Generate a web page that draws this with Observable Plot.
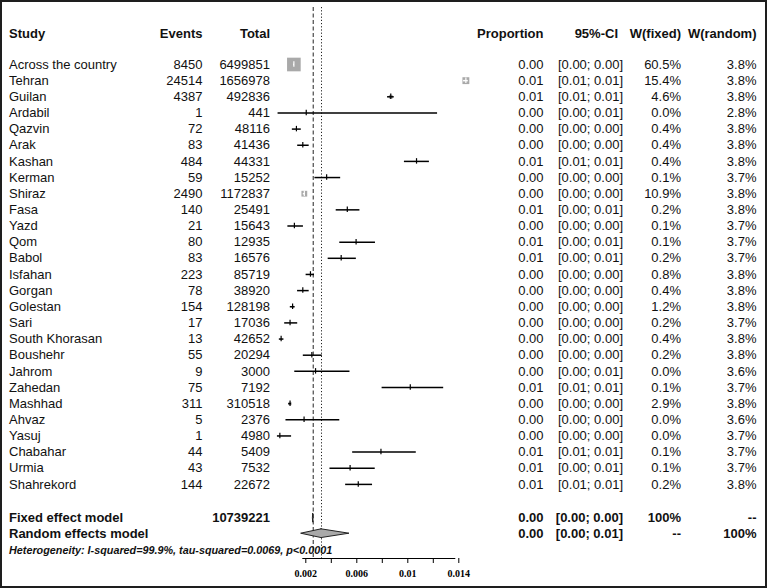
<!DOCTYPE html>
<html><head><meta charset="utf-8">
<script src="https://cdn.jsdelivr.net/npm/d3@7"></script>
<script src="https://cdn.jsdelivr.net/npm/@observablehq/plot@0.6"></script>
<style>
body{margin:0;background:#fff;}
#wrap{position:relative;width:767px;height:588px;overflow:hidden;background:#fff;}
#border{position:absolute;left:0;top:0;width:767px;height:588px;box-sizing:border-box;border:2px solid #1e1e1e;pointer-events:none;}
#wrap svg{display:block;}
</style></head><body>
<div id="wrap"><div id="border"></div></div>
<script>
// ---------- data ----------
const studies = ["Across the country","Tehran","Guilan","Ardabil","Qazvin","Arak","Kashan","Kerman","Shiraz","Fasa","Yazd","Qom","Babol","Isfahan","Gorgan","Golestan","Sari","South Khorasan","Boushehr","Jahrom","Zahedan","Mashhad","Ahvaz","Yasuj","Chabahar","Urmia","Shahrekord"];
const events = [8450,24514,4387,1,72,83,484,59,2490,140,21,80,83,223,78,154,17,13,55,9,75,311,5,1,44,43,144];
const totals = [6499851,1656978,492836,441,48116,41436,44331,15252,1172837,25491,15643,12935,16576,85719,38920,128198,17036,42652,20294,3000,7192,310518,2376,4980,5409,7532,22672];
const proportion = [0.0013,0.01479,0.0089,0.00227,0.0015,0.002,0.01092,0.00387,0.00212,0.00549,0.00134,0.00618,0.00501,0.0026,0.002,0.0012,0.001,0.0003,0.00271,0.003,0.01043,0.001,0.0021,0.0002,0.00813,0.00571,0.00635];
const ciLower = [0.00127,0.01461,0.00865,0.00006,0.00118,0.0016,0.00997,0.00295,0.00204,0.00462,0.00083,0.0049,0.00399,0.00226,0.00159,0.00102,0.00058,0.00016,0.00204,0.00137,0.00822,0.00089,0.00068,0.00001,0.00591,0.00413,0.00536];
const ciUpper = [0.00133,0.01498,0.00917,0.01257,0.00188,0.0025,0.01193,0.00497,0.00221,0.00648,0.00205,0.0077,0.0062,0.00292,0.0025,0.0014,0.0016,0.00052,0.00353,0.0057,0.01305,0.00112,0.0049,0.00112,0.0109,0.00768,0.00747];
const weightFixed = [60.5,15.4,4.6,0.0,0.4,0.4,0.4,0.1,10.9,0.2,0.1,0.1,0.2,0.8,0.4,1.2,0.2,0.4,0.2,0.0,0.1,2.9,0.0,0.0,0.1,0.1,0.2];
const weightRandom = [3.8,3.8,3.8,2.8,3.8,3.8,3.8,3.7,3.8,3.8,3.7,3.7,3.7,3.8,3.8,3.8,3.7,3.8,3.8,3.6,3.7,3.8,3.6,3.7,3.7,3.7,3.8];

const pooledLabels = ["Fixed effect model","Random effects model"];
const pooledTotal = ["10739221",""];
const pooledEst = [0.002816,0.003467];
const pooledLower = [0.00279,0.00187];
const pooledUpper = [0.00285,0.00566];
const pooledWFixed = ["100%","--"];
const pooledWRandom = ["--","100%"];
const heterogeneity = "Heterogeneity: I-squared=99.9%, tau-squared=0.0069, p<0.0001";
const headers = ["Study","Events","Total","Proportion","95%-CI","W(fixed)","W(random)"];
const xTicks = [0.002,0.004,0.006,0.008,0.010,0.012,0.014];
const xTickLabels = ["0.002","","0.006","","0.01","","0.014"];

// ---------- layout ----------
const W = 767, H = 588;
const xDomain = [0, 0.016], xRange = [276.8, 480.8];
const pxPerUnit = (xRange[1]-xRange[0])/(xDomain[1]-xDomain[0]);
const Y0 = 64, ROW = 16.15;
const rowOf = px => (px - Y0)/ROW;
const headerRow = rowOf(33.3), fixedRow = rowOf(517.8), randomRow = rowOf(533.2), hetRow = rowOf(549.6);
const axisPx = 558, axisRow = rowOf(axisPx), topRow = rowOf(7);
const FONT = "Liberation Sans, Arial, Helvetica, sans-serif";
const BOX_R = 7.7;
const boxSide = w => 1.7725*BOX_R*Math.sqrt(w/60.5);

const rows = studies.map((s,i) => ({
  study: s, events: String(events[i]), total: String(totals[i]),
  p: proportion[i], lo: ciLower[i], hi: ciUpper[i], wf: weightFixed[i], wr: weightRandom[i],
  row: i,
  inside: (ciUpper[i]-ciLower[i])*pxPerUnit < 0.8*boxSide(weightFixed[i])
}));
const pooled = pooledLabels.map((s,i) => ({
  study: s, total: pooledTotal[i], p: pooledEst[i], lo: pooledLower[i], hi: pooledUpper[i],
  wf: pooledWFixed[i], wr: pooledWRandom[i], row: i === 0 ? fixedRow : randomRow
}));
const f2 = v => v.toFixed(2);
const ciText = d => `[${f2(d.lo)}; ${f2(d.hi)}]`;

const cols = [
  {text: d => d.study, px: 8.5, anchor: "start"},
  {text: d => d.events ?? "", px: 202, anchor: "end"},
  {text: d => d.total, px: 269.5, anchor: "end"},
  {text: d => f2(d.p), px: 543, anchor: "end"},
  {text: ciText, px: 622.5, anchor: "end"},
  {text: d => typeof d.wf === "number" ? d.wf.toFixed(1) + "%" : d.wf, px: 680.5, anchor: "end"},
  {text: d => typeof d.wr === "number" ? d.wr.toFixed(1) + "%" : d.wr, px: 756, anchor: "end"}
];
const headerPx = [8.5, 202, 269.5, 543, 617.5, 680.5, 756];

const textMarks = [];
cols.forEach(c => {
  textMarks.push(Plot.text(rows, {y: "row", text: c.text, frameAnchor: "left", dx: c.px, textAnchor: c.anchor, fontSize: 13, fill: "#111"}));
  textMarks.push(Plot.text(pooled, {y: "row", text: c.text, frameAnchor: "left", dx: c.px, textAnchor: c.anchor, fontSize: 13, fontWeight: "bold", fill: "#111"}));
});
headers.forEach((h, i) => {
  textMarks.push(Plot.text([h], {y: () => headerRow, text: d => d, frameAnchor: "left", dx: headerPx[i], textAnchor: i === 0 ? "start" : "end", fontSize: 13, fontWeight: "bold", fill: "#111"}));
});

const diamond = d => [
  {y: d.row - 0.27, x1: d.p, x2: d.p},
  {y: d.row, x1: d.lo, x2: d.hi},
  {y: d.row + 0.27, x1: d.p, x2: d.p}
];
const labelMap = new Map(xTicks.map((t,i) => [t, xTickLabels[i]]));

const chart = Plot.plot({
  width: W, height: H,
  marginLeft: 0, marginRight: 0, marginTop: 0, marginBottom: H - axisPx,
  style: {fontFamily: FONT, background: "transparent"},
  x: {domain: xDomain, range: xRange, label: null},
  y: {domain: [-2, 30], range: [Y0 - 2*ROW, Y0 + 30*ROW], axis: null},
  r: {type: "sqrt", domain: [0, 60.5], range: [0, BOX_R]},
  marks: [
    Plot.ruleX([pooledEst[0]], {y1: topRow, y2: axisRow, stroke: "#222", strokeWidth: 1, strokeDasharray: "4,2.5"}),
    Plot.ruleX([pooledEst[1]], {y1: topRow, y2: axisRow, stroke: "#222", strokeWidth: 1, strokeDasharray: "1.2,2"}),
    Plot.dot(rows, {x: "p", y: "row", r: "wf", symbol: "square", fill: "#a9a9a9", stroke: "none"}),
    Plot.ruleY(rows, {y: "row", x1: "lo", x2: "hi", stroke: d => d.inside ? "#fff" : "#000", strokeWidth: 1.5}),
    Plot.ruleX(rows, {x: "p", y1: d => d.row - 0.17, y2: d => d.row + 0.17, stroke: d => d.inside ? "#fff" : "#000", strokeWidth: 1.2}),
    ...pooled.map(d => Plot.areaX(diamond(d), {y: "y", x1: "x1", x2: "x2", fill: "#a9a9a9", stroke: "#222", strokeWidth: 1})),
    Plot.ruleY([axisRow], {x1: xTicks[0], x2: xTicks[xTicks.length-1], stroke: "#000", strokeWidth: 1}),
    Plot.axisX(xTicks, {anchor: "bottom", tickSize: 5, tickPadding: 6, tickFormat: d => labelMap.get(d), fontSize: 10, fontWeight: "bold", fontFamily: "Liberation Serif, serif", dx: 3, fill: "#000", stroke: "#000"}),
    ...textMarks,
    Plot.text([heterogeneity], {y: () => hetRow, text: d => d, frameAnchor: "left", dx: 8.5, textAnchor: "start", fontSize: 10.8, fontWeight: "bold", fontStyle: "italic", fill: "#111"})
  ]
});
document.getElementById("wrap").prepend(chart);
</script>
</body></html>
